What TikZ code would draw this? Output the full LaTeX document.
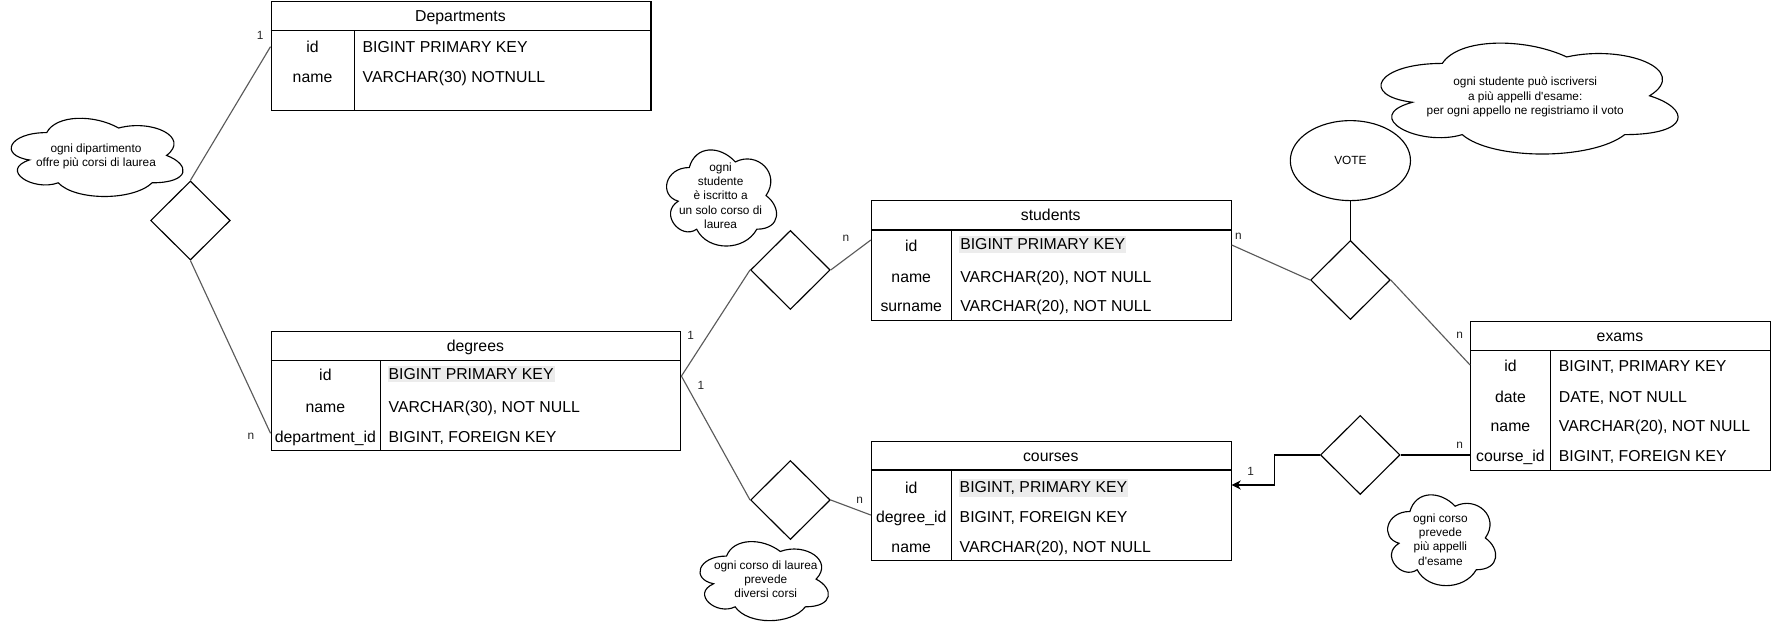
\documentclass[tikz,border=0pt]{standalone}
\usepackage{fontspec}
\setmainfont{Liberation Sans}
\usetikzlibrary{shapes.geometric,arrows.meta,calc}

\definecolor{conngray}{RGB}{90,90,90}
\definecolor{hlgray}{RGB}{236,236,236}

\tikzset{
  tbl/.style={draw=black, line width=1pt, fill=white, inner sep=0pt, anchor=north west},
  tline/.style={draw=black, line width=1pt},
  hdr/.style={font=\fontsize{14}{16}\selectfont, anchor=base, inner sep=0pt},
  fld/.style={font=\fontsize{14}{16}\selectfont, anchor=base, inner sep=0pt},
  typ/.style={font=\fontsize{14}{16}\selectfont, anchor=base west, inner sep=0pt},
  hityp/.style={typ, fill=hlgray, inner xsep=1pt, inner ysep=2.5pt},
  rel/.style={diamond, draw=black, line width=1pt, fill=white, inner sep=0pt, minimum width=70.5pt, minimum height=70pt},
  attr/.style={ellipse, draw=black, line width=1pt, fill=white, inner sep=0pt, font=\fontsize{10.5}{12}\selectfont},
  gconn/.style={draw=conngray, line width=1pt},
  bconn/.style={draw=black, line width=1pt},
  lbl/.style={font=\fontsize{10.5}{12}\selectfont, inner sep=0pt, text=black!85},
  note/.style={font=\fontsize{10.5}{12.7}\selectfont, align=center, inner sep=0pt},
  cloudline/.style={draw=black, line width=1pt, fill=white},
}

\newcommand{\ercloud}[4]{%
\draw[cloudline] ({#1+0.25*#3},{#2+0.25*#4})
 .. controls ({#1+0.05*#3},{#2+0.25*#4}) and ({#1},{#2+0.5*#4}) .. ({#1+0.16*#3},{#2+0.55*#4})
 .. controls ({#1},{#2+0.66*#4}) and ({#1+0.18*#3},{#2+0.9*#4}) .. ({#1+0.31*#3},{#2+0.8*#4})
 .. controls ({#1+0.4*#3},{#2+#4}) and ({#1+0.7*#3},{#2+#4}) .. ({#1+0.8*#3},{#2+0.8*#4})
 .. controls ({#1+#3},{#2+0.8*#4}) and ({#1+#3},{#2+0.6*#4}) .. ({#1+0.875*#3},{#2+0.5*#4})
 .. controls ({#1+#3},{#2+0.3*#4}) and ({#1+0.8*#3},{#2+0.1*#4}) .. ({#1+0.625*#3},{#2+0.2*#4})
 .. controls ({#1+0.5*#3},{#2+0.05*#4}) and ({#1+0.3*#3},{#2+0.05*#4}) .. ({#1+0.25*#3},{#2+0.25*#4})
 -- cycle;}

\begin{document}
\begin{tikzpicture}[x=1pt,y=-1pt]
\fill[white] (0,0) rectangle (1568,554.2);
\useasboundingbox (0,0) rectangle (1568,554.2);

% ---------- clouds ----------
\ercloud{-1.1}{97.2}{169.8}{80.8}
\node[note] (n1) at (85,138.5) {ogni dipartimento\\offre più corsi di laurea};
\ercloud{583.1}{123.5}{108.7}{99.3}
\node[note] (n2) at (638,173.1) {ogni\\studente\\è iscritto a\\un solo corso di\\laurea};
\ercloud{611.5}{471.9}{126.9}{81.7}
\node[note] (n3) at (678,512.8) {ogni corso di laurea\\prevede\\diversi corsi};
\ercloud{1203.6}{27.5}{293.6}{114.6}
\node[note] (n4) at (1350.4,85.8) {ogni studente può iscriversi\\a più appelli d\textquotesingle esame:\\per ogni appello ne registriamo il voto};
\ercloud{1221.6}{429.4}{106.8}{93.8}
\node[note] (n5) at (1275.3,477.6) {ogni corso\\prevede\\più appelli\\d\textquotesingle esame};

% ---------- Departments ----------
\node[tbl, minimum width=336.4pt, minimum height=97.1pt] (dept) at (239.5,0.6) {};
\draw[tline] (239.5,27.2) -- (575.9,27.2);
\draw[tline] (313.8,27.2) -- (313.8,97.7);
\node[hdr] (deptH) at (407.7,18.9) {Departments};
\node[fld] (deptF1) at (276.7,46.3) {id};
\node[fld] (deptF2) at (276.7,72.9) {name};
\node[typ] (deptT1) at (320.9,46.3) {BIGINT PRIMARY KEY};
\node[typ] (deptT2) at (320.9,72.9) {VARCHAR(30) NOTNULL};

% ---------- degrees ----------
\node[tbl, minimum width=362.8pt, minimum height=105.9pt] (deg) at (239.5,292.8) {};
\draw[tline] (239.5,319.3) -- (602.3,319.3);
\draw[tline] (336.7,319.3) -- (336.7,398.7);
\node[hdr] (degH) at (420.9,311) {degrees};
\node[fld] (degF1) at (288.1,337) {id};
\node[fld] (degF2) at (288.1,365.1) {name};
\node[fld] (degF3) at (288.1,391.6) {department\_id};
\node[hityp] (degT1) at (342.9,336) {BIGINT PRIMARY KEY};
\node[typ] (degT2) at (343.9,365.1) {VARCHAR(30), NOT NULL};
\node[typ] (degT3) at (343.9,391.6) {BIGINT, FOREIGN KEY};

% ---------- students ----------
\node[tbl, minimum width=318.5pt, minimum height=106.6pt] (stu) at (771,177) {};
\draw[tline] (771,203.6) -- (1089.5,203.6);
\draw[tline] (842.6,203.6) -- (842.6,283.6);
\node[hdr] (stuH) at (930.3,195.3) {students};
\node[fld] (stuF1) at (806.8,222.5) {id};
\node[fld] (stuF2) at (806.8,250) {name};
\node[fld] (stuF3) at (806.8,275.9) {surname};
\node[hityp] (stuT1) at (849,221.3) {BIGINT PRIMARY KEY};
\node[typ] (stuT2) at (850,250) {VARCHAR(20), NOT NULL};
\node[typ] (stuT3) at (850,275.9) {VARCHAR(20), NOT NULL};

% ---------- courses ----------
\node[tbl, minimum width=318.5pt, minimum height=105.6pt] (crs) at (771,390.2) {};
\draw[tline] (771,416.1) -- (1089.5,416.1);
\draw[tline] (842.6,416.1) -- (842.6,495.8);
\node[hdr] (crsH) at (930.3,408.2) {courses};
\node[fld] (crsF1) at (806.8,436.5) {id};
\node[fld] (crsF2) at (806.8,463) {degree\_id};
\node[fld] (crsF3) at (806.8,489.6) {name};
\node[hityp] (crsT1) at (848.5,436) {BIGINT, PRIMARY KEY};
\node[typ] (crsT2) at (849.5,463) {BIGINT, FOREIGN KEY};
\node[typ] (crsT3) at (849.5,489.6) {VARCHAR(20), NOT NULL};

% ---------- exams ----------
\node[tbl, minimum width=265.4pt, minimum height=132.2pt] (exm) at (1301.6,283.9) {};
\draw[tline] (1301.6,310.5) -- (1567,310.5);
\draw[tline] (1372.9,310.5) -- (1372.9,416.1);
\node[hdr] (exmH) at (1434.3,302.2) {exams};
\node[fld] (exmF1) at (1337.3,329) {id};
\node[fld] (exmF2) at (1337.3,356.2) {date};
\node[fld] (exmF3) at (1337.3,382.2) {name};
\node[fld] (exmF4) at (1337.3,408.7) {course\_id};
\node[typ] (exmT1) at (1380,329) {BIGINT, PRIMARY KEY};
\node[typ] (exmT2) at (1380,356.2) {DATE, NOT NULL};
\node[typ] (exmT3) at (1380,382.2) {VARCHAR(20), NOT NULL};
\node[typ] (exmT4) at (1380,408.7) {BIGINT, FOREIGN KEY};

% ---------- relationships ----------
\node[rel] (dd) at (168.6,195.2) {};
\node[rel] (sd) at (699.8,239) {};
\node[rel] (cd) at (699.8,442.7) {};
\node[rel] (vd) at (1195.6,247.9) {};
\node[rel] (ed) at (1204.3,402.8) {};
\node[attr, minimum width=106.4pt, minimum height=70.8pt] (vote) at (1195.6,142.2) {VOTE};

% ---------- connectors ----------
\draw[gconn] (dd.north) -- ($(dept.north west)+(0,40.7)$);
\draw[gconn] (dd.south) -- ($(deg.north west)+(0,90.8)$);
\draw[gconn] ($(deg.north east)+(0,40.2)$) -- (sd.west);
\draw[gconn] ($(deg.north east)+(0,40.2)$) -- (cd.west);
\draw[gconn] (sd.east) -- ($(stu.north west)+(0,35.5)$);
\draw[gconn] (cd.east) -- ($(crs.north west)+(0,65.8)$);
\draw[gconn] ($(stu.north east)+(0,39.9)$) -- (vd.west);
\draw[bconn] (vote.south) -- (vd.north);
\draw[gconn] (vd.east) -- ($(exm.north west)+(0,39.3)$);
\draw[bconn] (ed.east) -- (ed.east -| exm.west);
\draw[bconn, -{Stealth[length=8pt,width=8pt,inset=2.5pt]}] (ed.west) -- ++(-40.4,0) |- ($(crs.north east)+(0,39.2)$);

% ---------- cardinalities ----------
\node[lbl] (c1) at (230.4,31) {1};
\node[lbl] (c2) at (222.1,386) {n};
\node[lbl] (c3) at (611.4,297.2) {1};
\node[lbl] (c4) at (620.5,341) {1};
\node[lbl] (c5) at (749,211) {n};
\node[lbl] (c6) at (761.2,443.3) {n};
\node[lbl] (c7) at (1096.4,209.5) {n};
\node[lbl] (c8) at (1292.3,297.2) {n};
\node[lbl] (c9) at (1292.3,394.6) {n};
\node[lbl] (c10) at (1107.3,417) {1};
\end{tikzpicture}
\end{document}
